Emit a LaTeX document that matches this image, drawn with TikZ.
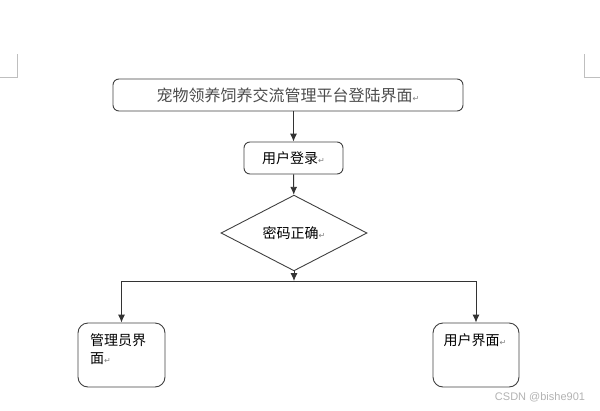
\documentclass[tikz,border=0pt]{standalone}
\usepackage{fontspec}
\usetikzlibrary{shapes.geometric,arrows.meta}
\newfontfamily\cjk{Noto Sans CJK SC}
\newfontfamily\symfont{DejaVu Sans}
\newfontfamily\wmfont{Liberation Sans}
\newcommand{\pmark}{{\symfont\fontsize{8}{8}\selectfont\textcolor{black!50}{↵}}}
\begin{document}
\begin{tikzpicture}[x=1pt,y=-1pt,
	box/.style={draw=black!75, line width=0.9pt, rounded corners=6pt, inner sep=0pt},
	arr/.style={draw=black!80, line width=0.9pt, -{Latex[length=8pt,width=7pt]}},
	txt/.style={font=\cjk\fontsize{14}{18}\selectfont}]
	\useasboundingbox (0,0) rectangle (600,410);
	\draw[black!25, line width=0.6pt] (0,77)--(17,77)--(17,54);
	\draw[black!25, line width=0.6pt] (600,77)--(584,77)--(584,54);
	\node[box, minimum width=350pt, minimum height=32pt, font=\cjk\fontsize{16}{18}\selectfont, text=black!70] (title) at (288,95) {宠物领养饲养交流管理平台登陆界面\pmark};
	\node[box, txt, minimum width=99pt, minimum height=32pt] (login) at (293.5,158) {用户登录\pmark};
	\node[draw=black!75, line width=0.9pt, diamond, inner sep=0pt, minimum width=146pt, minimum height=52pt, txt] (check) at (294,233) {密码正确\pmark};
	\node[box, rounded corners=10pt, minimum width=87pt, minimum height=64pt] (admin) at (121.5,355) {};
	\node[txt, anchor=north west, align=left, inner sep=0pt] (admintext) at (90,333) {管理员界\\面\pmark};
	\node[box, rounded corners=10pt, minimum width=86pt, minimum height=64pt] (user) at (476,355) {};
	\node[txt, anchor=north, inner sep=0pt] (usertext) at (475,333) {用户界面\pmark};
	\node[font=\wmfont\fontsize{11}{11}\selectfont, text=black!30] (mark) at (540,397) {CSDN @bishe901};
	\coordinate (split) at (294,281);
	\draw[arr] (title.south -| login) -- (login);
	\draw[arr] (login) -- (check);
	\draw[arr] (check) -- (split);
	\draw[arr] (split) -| (admin);
	\draw[arr] (split) -| (user);
\end{tikzpicture}
\end{document}
